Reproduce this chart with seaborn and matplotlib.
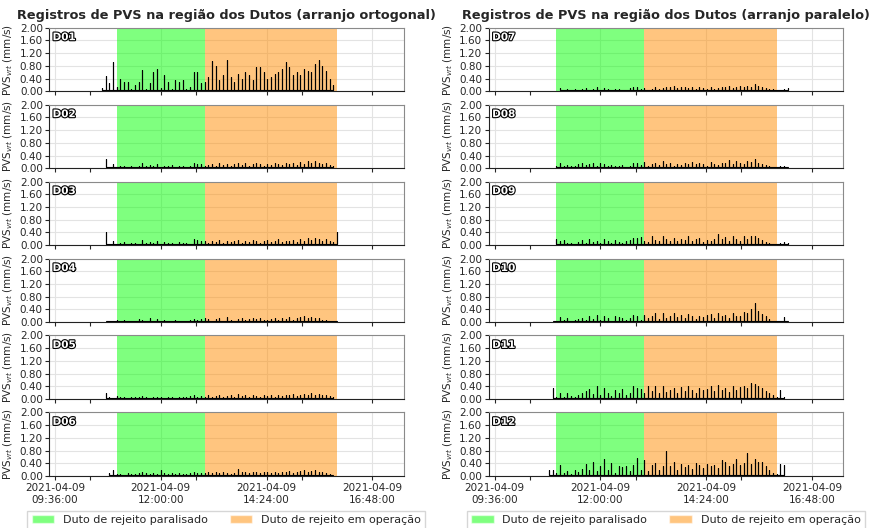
import numpy as np
import pandas as pd
import matplotlib
matplotlib.use('Agg')
import matplotlib.pyplot as plt
import matplotlib.dates as mdates
import matplotlib.patheffects as pe
from matplotlib.patches import Patch
import seaborn as sns

nan = np.nan

# PVS por janela de 5 min, a partir de 10:40
inicio = '2021-04-09 10:40'
n_amostras = 68

D01 = [0.10, 0.48, 0.25, 0.93, 0.15, 0.40, 0.28, 0.30, 0.06, 0.20, 0.30, 0.66, 0.08, 0.25, 0.62, 0.70, 0.10,
       0.50, 0.30, 0.06, 0.35, 0.30, 0.35, 0.06, 0.15, 0.62, 0.60, 0.25, 0.30, 0.45, 0.96, 0.80, 0.35, 0.50,
       1.00, 0.45, 0.30, 0.55, 0.40, 0.62, 0.50, 0.35, 0.75, 0.75, 0.60, 0.40, 0.45, 0.55, 0.60, 0.70, 0.92,
       0.75, 0.50, 0.60, 0.50, 0.70, 0.65, 0.60, 0.85, 1.00, 0.80, 0.65, 0.40, 0.20, nan, nan, nan, nan]
D02 = [nan, 0.30, 0.05, 0.12, 0.05, 0.08, 0.06, 0.05, 0.06, 0.04, 0.08, 0.15, 0.06, 0.10, 0.06, 0.12, 0.05,
       0.08, 0.06, 0.10, 0.05, 0.06, 0.08, 0.05, 0.07, 0.16, 0.14, 0.12, 0.08, 0.10, 0.14, 0.08, 0.16, 0.10,
       0.14, 0.08, 0.12, 0.15, 0.10, 0.16, 0.08, 0.14, 0.16, 0.12, 0.08, 0.14, 0.10, 0.16, 0.12, 0.10, 0.15,
       0.12, 0.18, 0.10, 0.20, 0.14, 0.22, 0.18, 0.24, 0.16, 0.12, 0.18, 0.10, 0.08, nan, nan, nan, nan]
D03 = [nan, 0.40, 0.05, 0.12, 0.05, 0.08, 0.10, 0.05, 0.06, 0.08, 0.05, 0.16, 0.08, 0.10, 0.06, 0.12, 0.05,
       0.10, 0.06, 0.08, 0.05, 0.10, 0.06, 0.08, 0.05, 0.18, 0.15, 0.12, 0.14, 0.08, 0.12, 0.10, 0.16, 0.08,
       0.14, 0.10, 0.12, 0.16, 0.08, 0.14, 0.10, 0.16, 0.12, 0.08, 0.14, 0.16, 0.10, 0.12, 0.18, 0.10, 0.14,
       0.12, 0.16, 0.10, 0.18, 0.14, 0.24, 0.16, 0.22, 0.18, 0.14, 0.18, 0.12, 0.10, 0.40, nan, nan, nan]
D04 = [nan, 0.03, 0.05, 0.03, 0.06, 0.04, 0.08, 0.03, 0.05, 0.04, 0.10, 0.08, 0.05, 0.12, 0.04, 0.09, 0.05,
       0.06, 0.04, 0.05, 0.06, 0.04, 0.05, 0.04, 0.06, 0.10, 0.08, 0.10, 0.12, 0.10, 0.05, 0.10, 0.12, 0.04,
       0.15, 0.06, 0.05, 0.10, 0.12, 0.08, 0.10, 0.12, 0.10, 0.14, 0.06, 0.08, 0.10, 0.12, 0.08, 0.14, 0.10,
       0.16, 0.08, 0.12, 0.16, 0.18, 0.14, 0.16, 0.12, 0.14, 0.08, 0.06, 0.04, 0.03, 0.03, nan, nan, nan]
D05 = [nan, 0.20, 0.08, 0.04, 0.10, 0.05, 0.08, 0.04, 0.06, 0.08, 0.05, 0.10, 0.06, 0.04, 0.08, 0.05, 0.06,
       0.04, 0.08, 0.05, 0.04, 0.06, 0.08, 0.05, 0.10, 0.12, 0.08, 0.10, 0.08, 0.12, 0.06, 0.10, 0.12, 0.05,
       0.10, 0.14, 0.08, 0.16, 0.10, 0.12, 0.08, 0.12, 0.10, 0.08, 0.12, 0.10, 0.14, 0.08, 0.12, 0.10, 0.14,
       0.12, 0.16, 0.10, 0.14, 0.16, 0.12, 0.18, 0.14, 0.16, 0.12, 0.14, 0.10, 0.08, nan, nan, nan, nan]
D06 = [nan, nan, 0.10, 0.18, 0.05, 0.06, 0.04, 0.08, 0.05, 0.06, 0.10, 0.12, 0.08, 0.06, 0.10, 0.05, 0.20,
       0.08, 0.06, 0.10, 0.05, 0.08, 0.06, 0.05, 0.10, 0.12, 0.08, 0.10, 0.08, 0.12, 0.10, 0.14, 0.08, 0.12,
       0.10, 0.06, 0.10, 0.22, 0.14, 0.12, 0.10, 0.14, 0.12, 0.10, 0.12, 0.14, 0.08, 0.12, 0.10, 0.14, 0.12,
       0.16, 0.10, 0.14, 0.16, 0.18, 0.14, 0.16, 0.18, 0.12, 0.14, 0.10, 0.06, 0.04, nan, nan, nan, nan]
D07 = [nan, nan, nan, nan, nan, 0.10, 0.05, 0.06, 0.04, 0.08, 0.05, 0.06, 0.10, 0.05, 0.08, 0.12, 0.05,
       0.10, 0.06, 0.05, 0.08, 0.06, 0.04, 0.05, 0.10, 0.12, 0.12, 0.06, 0.10, 0.05, 0.08, 0.12, 0.06, 0.10,
       0.14, 0.12, 0.16, 0.10, 0.14, 0.12, 0.10, 0.14, 0.08, 0.12, 0.10, 0.06, 0.12, 0.08, 0.10, 0.14, 0.12,
       0.16, 0.10, 0.14, 0.18, 0.12, 0.16, 0.14, 0.22, 0.18, 0.14, 0.10, 0.08, 0.06, 0.05, 0.04, 0.06, 0.10]
D08 = [nan, nan, nan, nan, 0.08, 0.16, 0.08, 0.10, 0.06, 0.08, 0.12, 0.16, 0.10, 0.14, 0.18, 0.08, 0.16,
       0.12, 0.06, 0.10, 0.08, 0.06, 0.10, 0.05, 0.08, 0.16, 0.18, 0.10, 0.20, 0.08, 0.12, 0.16, 0.10, 0.22,
       0.12, 0.18, 0.08, 0.14, 0.10, 0.16, 0.12, 0.20, 0.14, 0.18, 0.12, 0.08, 0.20, 0.14, 0.10, 0.18, 0.16,
       0.26, 0.12, 0.22, 0.18, 0.14, 0.24, 0.20, 0.28, 0.18, 0.14, 0.10, 0.06, 0.04, 0.03, 0.08, 0.06, 0.04]
D09 = [nan, nan, nan, nan, 0.18, 0.12, 0.15, 0.06, 0.08, 0.05, 0.10, 0.16, 0.08, 0.18, 0.10, 0.14, 0.08,
       0.20, 0.12, 0.08, 0.16, 0.10, 0.06, 0.12, 0.16, 0.24, 0.22, 0.25, 0.14, 0.10, 0.28, 0.16, 0.12, 0.30,
       0.18, 0.14, 0.24, 0.12, 0.20, 0.16, 0.28, 0.14, 0.18, 0.22, 0.10, 0.16, 0.12, 0.20, 0.35, 0.18, 0.26,
       0.14, 0.28, 0.20, 0.12, 0.30, 0.18, 0.28, 0.30, 0.22, 0.16, 0.10, 0.06, 0.05, 0.04, 0.08, 0.10, 0.06]
D10 = [nan, nan, nan, 0.03, 0.05, 0.15, 0.08, 0.12, 0.05, 0.08, 0.10, 0.14, 0.06, 0.18, 0.10, 0.22, 0.08,
       0.18, 0.12, 0.05, 0.20, 0.15, 0.14, 0.08, 0.12, 0.22, 0.20, 0.08, 0.22, 0.12, 0.18, 0.30, 0.10, 0.30,
       0.14, 0.20, 0.28, 0.16, 0.22, 0.14, 0.24, 0.18, 0.10, 0.20, 0.16, 0.22, 0.24, 0.14, 0.30, 0.18, 0.22,
       0.14, 0.28, 0.18, 0.20, 0.32, 0.28, 0.40, 0.60, 0.35, 0.25, 0.18, 0.10, 0.05, 0.04, 0.03, 0.15, 0.04]
D11 = [nan, nan, nan, 0.35, 0.06, 0.20, 0.08, 0.18, 0.10, 0.06, 0.12, 0.20, 0.25, 0.32, 0.15, 0.40, 0.12,
       0.35, 0.20, 0.10, 0.28, 0.18, 0.32, 0.12, 0.20, 0.42, 0.35, 0.32, 0.20, 0.40, 0.25, 0.42, 0.18, 0.40,
       0.22, 0.30, 0.35, 0.20, 0.38, 0.25, 0.40, 0.30, 0.20, 0.35, 0.28, 0.32, 0.40, 0.25, 0.45, 0.30, 0.35,
       0.22, 0.40, 0.30, 0.38, 0.42, 0.35, 0.52, 0.48, 0.40, 0.35, 0.25, 0.18, 0.12, 0.08, 0.30, 0.06, nan]
D12 = [nan, nan, 0.18, 0.20, 0.08, 0.35, 0.10, 0.15, 0.06, 0.18, 0.12, 0.22, 0.38, 0.20, 0.45, 0.15, 0.30,
       0.55, 0.20, 0.42, 0.10, 0.32, 0.28, 0.30, 0.15, 0.35, 0.58, 0.20, 0.50, 0.15, 0.35, 0.40, 0.18, 0.32,
       0.78, 0.30, 0.45, 0.20, 0.38, 0.28, 0.35, 0.22, 0.40, 0.35, 0.25, 0.38, 0.30, 0.35, 0.25, 0.50, 0.45,
       0.30, 0.38, 0.55, 0.35, 0.42, 0.72, 0.38, 0.52, 0.45, 0.45, 0.30, 0.18, 0.10, 0.05, 0.38, 0.35, nan]

esquerda = {'D01': D01, 'D02': D02, 'D03': D03, 'D04': D04, 'D05': D05, 'D06': D06}
direita = {'D07': D07, 'D08': D08, 'D09': D09, 'D10': D10, 'D11': D11, 'D12': D12}

# nivel de fundo aproximado de cada geofone (mm/s)
fundo = {'D01': 0.05, 'D02': 0.03, 'D03': 0.03, 'D04': 0.02, 'D05': 0.03, 'D06': 0.02,
         'D07': 0.03, 'D08': 0.03, 'D09': 0.04, 'D10': 0.03, 'D11': 0.04, 'D12': 0.03}

titulos = ['Registros de PVS na região dos Dutos (arranjo ortogonal)',
           'Registros de PVS na região dos Dutos (arranjo paralelo)']

paralisado = ('2021-04-09 11:00', '2021-04-09 13:00')
operacao = ('2021-04-09 13:00', '2021-04-09 16:00')
ticks_x = ['2021-04-09 09:36', '2021-04-09 12:00', '2021-04-09 14:24', '2021-04-09 16:48']
ticks_x_menores = ['2021-04-09 10:24', '2021-04-09 12:48', '2021-04-09 15:12']
lim_x = ('2021-04-09 09:28', '2021-04-09 17:30:30')

sns.set_style('ticks')
plt.rcParams['font.family'] = ['DejaVu Sans']

tempo = pd.date_range(inicio, periods=n_amostras, freq='5min')


def hastes(valores, base):
    # cada registro vira um pico saindo do nivel de fundo
    df = pd.DataFrame({'t': tempo, 'v': valores}).dropna()
    linhas = []
    for t, v in zip(df['t'], df['v']):
        linhas += [(t, base), (t, v), (t, base)]
    return pd.DataFrame(linhas, columns=['t', 'pvs'])


fig, axes = plt.subplots(6, 2, figsize=(8.71, 5.28), dpi=100, sharex=True)
fig.subplots_adjust(left=0.0563, right=0.968, top=0.9475, bottom=0.0985, wspace=0.24, hspace=0.21)

for col, dados in enumerate([esquerda, direita]):
    for row, (nome, valores) in enumerate(dados.items()):
        ax = axes[row, col]
        ax.axvspan(pd.Timestamp(paralisado[0]), pd.Timestamp(paralisado[1]), color='lime', alpha=0.5, lw=0)
        ax.axvspan(pd.Timestamp(operacao[0]), pd.Timestamp(operacao[1]), color='darkorange', alpha=0.5, lw=0)
        sns.lineplot(data=hastes(valores, fundo[nome]), x='t', y='pvs', ax=ax, color='black', lw=0.8,
                     estimator=None, sort=False)
        ax.set_ylim(0, 2.0)
        ax.set_yticks(np.arange(0, 2.01, 0.4))
        ax.yaxis.set_major_formatter(plt.FormatStrFormatter('%.2f'))
        ax.set_xlim(pd.Timestamp(lim_x[0]), pd.Timestamp(lim_x[1]))
        ax.set_xticks([pd.Timestamp(t) for t in ticks_x])
        ax.set_xticks([pd.Timestamp(t) for t in ticks_x_menores], minor=True)
        ax.xaxis.set_major_formatter(mdates.DateFormatter('%Y-%m-%d\n%H:%M:%S'))
        ax.tick_params(axis='x', which='both', length=3, width=0.8, labelsize=7.5, pad=2)
        ax.tick_params(axis='y', length=3, width=0.8, labelsize=7.5, pad=1.5)
        ax.grid(True, axis='y', color='#e3e3e3', lw=0.8)
        ax.grid(True, axis='x', which='major', color='#e3e3e3', lw=0.8)
        ax.set_axisbelow(True)
        ax.set_xlabel('')
        ax.set_ylabel('PVS$_{vrt}$ (mm/s)', fontsize=7.5, labelpad=3)
        for s in ['top', 'right']:
            ax.spines[s].set_color('#8a8a8a')
        for s in ['left', 'bottom']:
            ax.spines[s].set_color('#222222')
        ax.text(0.01, 0.93, nome, transform=ax.transAxes, ha='left', va='top', fontsize=7.5,
                fontweight='bold', color='white',
                path_effects=[pe.withStroke(linewidth=1.6, foreground='black')])
    axes[0, col].set_title(titulos[col], fontsize=9.3, fontweight='bold', pad=6.5)
    handles = [Patch(facecolor='lime', alpha=0.5, label='Duto de rejeito paralisado'),
               Patch(facecolor='darkorange', alpha=0.5, label='Duto de rejeito em operação')]
    axes[5, col].legend(handles=handles, loc='upper center', bbox_to_anchor=(0.5, -0.46), ncol=2,
                        fontsize=8, frameon=True, fancybox=False, edgecolor='#cccccc')

fig.savefig('out.png', dpi=100)
